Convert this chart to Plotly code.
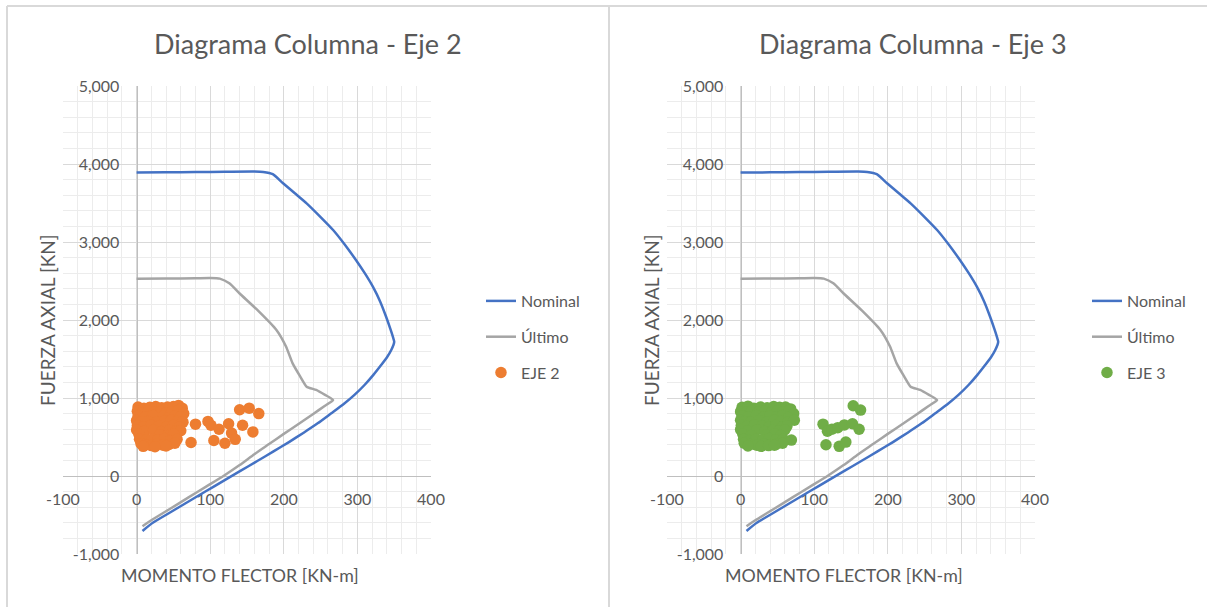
import plotly.graph_objects as go

W, H = 1207, 607

# Axis ticks (labels written with a plain hyphen for negatives)
x_ticks = [-100, 0, 100, 200, 300, 400]
x_labels = ["-100", "0", "100", "200", "300", "400"]
y_ticks = [-1000, 0, 1000, 2000, 3000, 4000, 5000]
y_labels = ["-1,000", "0", "1,000", "2,000", "3,000", "4,000", "5,000"]

# Interaction diagram curves (moment kN-m, axial kN)
nominal_m = [0, 40, 80, 120, 160, 172, 185, 199, 215, 231, 250, 267, 283, 298, 310, 321, 331, 339, 345,
             349, 350, 346, 340, 332, 322, 310, 296, 281, 264, 246, 227, 207, 186, 164, 141, 118, 94,
             70, 46, 22, 8]
nominal_p = [3890, 3893, 3897, 3900, 3903, 3898, 3870, 3753, 3625, 3496, 3320, 3154, 2965, 2769, 2600,
             2427, 2235, 2042, 1880, 1760, 1720, 1615, 1520, 1420, 1300, 1170, 1040, 920, 800, 675,
             555, 435, 315, 192, 65, -62, -196, -330, -465, -600, -705]

ultimo_m = [0, 40, 80, 100, 113, 126, 140, 165, 190, 203, 212, 222, 231, 244, 256, 267, 255, 240, 222,
            200, 180, 160, 140, 118, 95, 70, 45, 20, 8]
ultimo_p = [2530, 2532, 2535, 2538, 2530, 2470, 2340, 2120, 1872, 1660, 1444, 1280, 1145, 1103, 1040,
            975, 895, 795, 680, 540, 410, 280, 140, 0, -133, -278, -423, -568, -645]

# Load combinations, column line 2
eje2_m = [2, 10, 18, 26, 34, 42, 50, 57, 62,
          1, 8, 16, 24, 33, 40, 48, 56, 64,
          2, 12, 22, 36, 44, 52, 60,
          0, 6, 15, 27, 38, 47, 55, 63,
          1, 9, 20, 30, 41, 50, 58,
          0, 11, 23, 34, 45, 53, 60,
          3, 32, 42, 51,
          4, 13, 21, 29, 38, 46, 55,
          6, 12, 20, 28, 36, 44, 52,
          9, 25, 40,
          80, 74, 97, 101, 105, 112, 120, 125, 129, 134, 140, 144, 153, 158, 166]
eje2_p = [885, 870, 880, 890, 875, 885, 890, 905, 870,
          830, 815, 835, 820, 830, 810, 825, 840, 800,
          770, 760, 775, 765, 750, 770, 760,
          710, 695, 700, 690, 705, 715, 700, 690,
          645, 630, 650, 640, 630, 650, 625,
          590, 575, 585, 570, 590, 570, 580,
          540, 530, 520, 535,
          470, 460, 475, 465, 480, 455, 470,
          415, 400, 390, 410, 395, 405, 420,
          380, 375, 385,
          665, 430, 700, 650, 455, 600, 420, 670, 550, 470, 850, 650, 870, 565, 800]

# Load combinations, column line 3
eje3_m = [2, 10, 18, 27, 36, 45, 53, 61, 68,
          0, 7, 15, 24, 33, 42, 50, 58, 66, 72,
          2, 11, 21, 31, 40, 49, 57, 65,
          0, 6, 14, 25, 36, 46, 55, 64, 73,
          1, 9, 19, 29, 39, 48, 56, 63,
          0, 10, 22, 33, 44, 52, 60,
          3, 14, 35, 46, 55,
          4, 12, 21, 30, 39, 48, 58, 69,
          5, 13, 22, 31, 40, 49, 57,
          10, 28, 38, 46,
          112, 118, 116, 124, 132, 134, 141, 143, 152, 153, 161, 163]
eje3_p = [880, 895, 870, 885, 875, 890, 880, 885, 860,
          825, 815, 840, 820, 830, 815, 835, 825, 840, 800,
          770, 760, 775, 755, 770, 760, 775, 750,
          715, 700, 690, 710, 695, 715, 700, 690, 715,
          650, 635, 655, 640, 630, 650, 625, 640,
          595, 580, 590, 570, 585, 575, 590,
          535, 520, 525, 540, 520,
          470, 455, 475, 460, 480, 465, 470, 460,
          420, 405, 395, 415, 400, 410, 420,
          385, 380, 390, 395,
          665, 575, 400, 600, 620, 380, 655, 435, 670, 900, 600, 845]

TXT = "#595959"
FONT = "Lato"
BLUE, GRAY = "#4472C4", "#A5A5A5"


def px_x(p):
    return p / W


def px_y(p):
    return 1 - p / H


fig = go.Figure()

panels = [
    dict(xa="x", ya="y", legend="legend", pts=(eje2_m, eje2_p), name="EJE 2", color="#ED7D31"),
    dict(xa="x2", ya="y2", legend="legend2", pts=(eje3_m, eje3_p), name="EJE 3", color="#70AD47"),
]

for i, pnl in enumerate(panels):
    fig.add_trace(go.Scatter(x=nominal_m, y=nominal_p, mode="lines", name="Nominal",
                             line=dict(color=BLUE, width=2.5, shape="spline", smoothing=0.6),
                             xaxis=pnl["xa"], yaxis=pnl["ya"],
                             legend=pnl["legend"], legendgroup=f"n{i}"))
    fig.add_trace(go.Scatter(x=ultimo_m, y=ultimo_p, mode="lines", name="Último",
                             line=dict(color=GRAY, width=2.5, shape="spline", smoothing=0.5),
                             xaxis=pnl["xa"], yaxis=pnl["ya"],
                             legend=pnl["legend"], legendgroup=f"u{i}"))
    fig.add_trace(go.Scatter(x=pnl["pts"][0], y=pnl["pts"][1], mode="markers", name=pnl["name"],
                             marker=dict(color=pnl["color"], size=11.5, line=dict(width=0)),
                             xaxis=pnl["xa"], yaxis=pnl["ya"],
                             legend=pnl["legend"], legendgroup=f"e{i}"))

# Plot-area geometry in pixels: (left, right) for each panel, shared top/bottom
areas = [(63, 431), (667, 1035)]
top_px, bot_px = 86, 554
zero_y_px = 476

tickfont = dict(family=FONT, size=16, color=TXT)
layout = {}
for i, (l, r) in enumerate(areas):
    sx = "" if i == 0 else "2"
    zero_x_px = l + (r - l) * 100 / 500
    layout[f"xaxis{sx}"] = dict(
        domain=[px_x(l), px_x(r)], range=[-100, 400],
        tickmode="array", tickvals=x_ticks, ticktext=x_labels,
        anchor="free", position=px_y(zero_y_px), showline=True, linecolor="#bfbfbf", linewidth=1,
        showgrid=True, gridcolor="#d9d9d9", gridwidth=1, zeroline=False,
        minor=dict(tickmode="linear", tick0=0, dtick=20, showgrid=True, gridcolor="#ececec",
                   gridwidth=1),
        ticks="outside", ticklen=9, tickcolor="rgba(0,0,0,0)", tickfont=tickfont,
        layer="below traces", fixedrange=True,
    )
    layout[f"yaxis{sx}"] = dict(
        domain=[px_y(bot_px), px_y(top_px)], range=[-1000, 5000],
        tickmode="array", tickvals=y_ticks, ticktext=y_labels,
        anchor="free", position=px_x(zero_x_px), showline=True,
        linecolor="#bfbfbf", linewidth=1,
        showgrid=True, gridcolor="#d9d9d9", gridwidth=1, zeroline=False,
        minor=dict(tickmode="linear", tick0=0, dtick=200, showgrid=True, gridcolor="#ececec",
                   gridwidth=1),
        ticks="outside", ticklen=14, tickcolor="rgba(0,0,0,0)", tickfont=tickfont,
        layer="below traces", fixedrange=True,
    )

legend_style = dict(font=dict(family=FONT, size=16, color=TXT), traceorder="grouped",
                    tracegroupgap=12, bgcolor="rgba(0,0,0,0)", yanchor="top", xanchor="left",
                    itemclick=False, itemdoubleclick=False)
layout["legend"] = dict(x=px_x(481), y=px_y(284), **legend_style)
layout["legend2"] = dict(x=px_x(1087), y=px_y(284), **legend_style)

titles = ["Diagrama Columna - Eje 2", "Diagrama Columna - Eje 3"]
title_cx = [308, 913]
annotations = []
for i, (l, r) in enumerate(areas):
    annotations.append(dict(text=titles[i], x=px_x(title_cx[i]), y=px_y(44), xref="paper",
                            yref="paper", showarrow=False, xanchor="center", yanchor="middle",
                            font=dict(family=FONT, size=27, color=TXT)))
    annotations.append(dict(text="MOMENTO FLECTOR [KN-m]", x=px_x((l + r) / 2 - 7), y=px_y(575),
                            xref="paper", yref="paper", showarrow=False, xanchor="center",
                            yanchor="middle", font=dict(family=FONT, size=17.8, color=TXT)))
    annotations.append(dict(text="FUERZA AXIAL [KN]", x=px_x(l - 16), y=px_y(320), xref="paper",
                            yref="paper", showarrow=False, xanchor="center", yanchor="middle",
                            textangle=-90, font=dict(family=FONT, size=19, color=TXT)))

border = dict(color="#d9d9d9", width=2)
shapes = [
    dict(type="line", xref="paper", yref="paper", x0=px_x(7), x1=px_x(7), y0=px_y(6), y1=0, line=border),
    dict(type="line", xref="paper", yref="paper", x0=px_x(7), x1=1, y0=px_y(6), y1=px_y(6), line=border),
    dict(type="line", xref="paper", yref="paper", x0=px_x(609), x1=px_x(609), y0=px_y(6), y1=0,
         line=border),
]

fig.update_layout(
    width=W, height=H, margin=dict(l=0, r=0, t=0, b=0, autoexpand=False),
    paper_bgcolor="white", plot_bgcolor="white", showlegend=True,
    annotations=annotations, shapes=shapes, **layout,
)

fig.write_html("out.html")
